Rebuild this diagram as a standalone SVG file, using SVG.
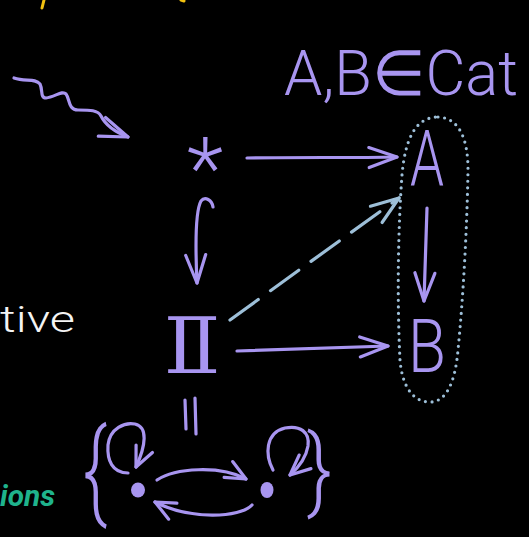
<svg xmlns="http://www.w3.org/2000/svg" width="529" height="537" viewBox="0 0 529 537">
  <style>
    .ink{fill:none;stroke:#a895f0;stroke-width:3.2;stroke-linecap:round;stroke-linejoin:round}
    .dash{fill:none;stroke:#9dbfd8;stroke-width:3.2;stroke-linecap:round;stroke-dasharray:35 15}
    .dots{fill:none;stroke:#9dbfd8;stroke-width:3.2;stroke-linecap:round;stroke-dasharray:0 6.6}
    .lbl{fill:#a895f0;font-family:Roboto,"Liberation Sans",sans-serif;font-weight:300}
    .dot{fill:#a895f0}
    .yel{fill:none;stroke:#f2c10f;stroke-width:3;stroke-linecap:round}
  </style>
  <defs>
    <marker id="hd" markerUnits="userSpaceOnUse" viewBox="-32 -14 36 28" refX="0" refY="0" markerWidth="36" markerHeight="28" orient="auto">
      <path d="M-28,-10 L0,0 L-28,10" fill="none" stroke="#a895f0" stroke-width="3.2" stroke-linecap="round" stroke-linejoin="round"/>
    </marker>
    <marker id="hd-b" markerUnits="userSpaceOnUse" viewBox="-32 -14 36 28" refX="0" refY="0" markerWidth="36" markerHeight="28" orient="auto">
      <path d="M-28,-10 L0,0 L-28,10" fill="none" stroke="#9dbfd8" stroke-width="3.2" stroke-linecap="round" stroke-linejoin="round"/>
    </marker>
    <marker id="hd-s" markerUnits="userSpaceOnUse" viewBox="-24 -12 28 24" refX="0" refY="0" markerWidth="28" markerHeight="24" orient="auto">
      <path d="M-20,-9 L0,0 L-20,9" fill="none" stroke="#a895f0" stroke-width="3.2" stroke-linecap="round" stroke-linejoin="round"/>
    </marker>
  </defs>

  <rect width="529" height="537" fill="#000"/>

  <!-- stray yellow ink at the top edge -->
  <g id="top-ink">
    <path class="yel" d="M44,0 L42,8"/>
    <path class="yel" d="M181,0 L184,1"/>
  </g>

  <!-- side notes -->
  <text x="0" y="332" textLength="75" lengthAdjust="spacingAndGlyphs" font-family="Roboto,'Liberation Sans',sans-serif" font-weight="300" font-size="36" fill="#f4f4f4">tive</text>
  <text x="0" y="506" textLength="55" lengthAdjust="spacingAndGlyphs" font-family="Roboto,'Liberation Sans',sans-serif" font-style="italic" font-weight="700" font-size="30" fill="#1fb38c">ions</text>

  <!-- caption -->
  <text id="caption" class="lbl" x="284" y="95" font-size="63" textLength="234" lengthAdjust="spacingAndGlyphs">A,B∈Cat</text>

  <!-- nodes -->
  <g id="node-star">
    <text class="lbl" x="205" y="198" font-size="85" text-anchor="middle">*</text>
  </g>
  <g id="node-A">
    <text class="lbl" x="410" y="186" font-size="78" textLength="34" lengthAdjust="spacingAndGlyphs">A</text>
  </g>
  <g id="node-B">
    <text class="lbl" x="408" y="372" font-size="75" textLength="38" lengthAdjust="spacingAndGlyphs">B</text>
  </g>
  <g id="node-I">
    <text class="lbl" x="160" y="373" font-size="78" textLength="65" lengthAdjust="spacingAndGlyphs" style="font-family:'DejaVu Sans',sans-serif">𝕀</text>
  </g>
  <g id="node-walking-iso">
    <text class="lbl" x="83" y="507" font-size="110" textLength="24" lengthAdjust="spacingAndGlyphs">{</text>
    <text class="lbl" x="307" y="501" font-size="93" textLength="25" lengthAdjust="spacingAndGlyphs">}</text>
    <ellipse class="dot" cx="138" cy="490" rx="7" ry="7.5"/>
    <ellipse class="dot" cx="267" cy="490" rx="6.5" ry="8"/>
    <!-- identity loops -->
    <path class="ink" marker-end="url(#hd-s)" d="M128,473 C112,473 107,460 108,445 C110,428 125,422 135,424 C148,427 146,445 136,467"/>
    <path class="ink" marker-end="url(#hd-s)" d="M273,470 C265,455 265,433 285,428 C300,425 310,432 308,446 C306,458 298,468 290,475"/>
    <!-- the two inverse arrows -->
    <path class="ink" marker-end="url(#hd-s)" d="M157,480 C175,468 220,465 246,479"/>
    <path class="ink" marker-end="url(#hd-s)" d="M252,505 C240,518 190,520 155,502"/>
  </g>

  <!-- connectors -->
  <g id="connectors">
    <path class="ink" marker-end="url(#hd)" d="M14,78 C25,82 35,78 40,84 C43,90 40,98 46,98 C55,97 62,90 66,94 C70,99 68,110 78,110 C90,110 98,110 101,116 C104,122 110,130 128,137"/>
    <path class="ink" marker-end="url(#hd)" d="M247,158 C300,157 350,158 397,157"/>
    <path class="ink" marker-end="url(#hd)" d="M213,207 C212,200 205,196 201,201 C196,210 195,240 197,283"/>
    <path class="ink" marker-end="url(#hd)" d="M427,208 L424,301"/>
    <path class="ink" marker-end="url(#hd)" d="M237,351 L388,346"/>
    <path class="dash" marker-end="url(#hd-b)" d="M230,320 Q310,262 399,198"/>
    <path class="dots" d="M438,117 C460,118 468,140 468,170 C467,230 463,300 458,350 C455,385 445,402 430,402 C412,402 402,385 400,360 C397,300 398,230 402,175 C405,140 415,117 438,117 Z"/>
    <!-- equality between the interval and the walking isomorphism -->
    <path class="ink" d="M185,400 L186,429 M195,398 L196,434"/>
  </g>
</svg>
